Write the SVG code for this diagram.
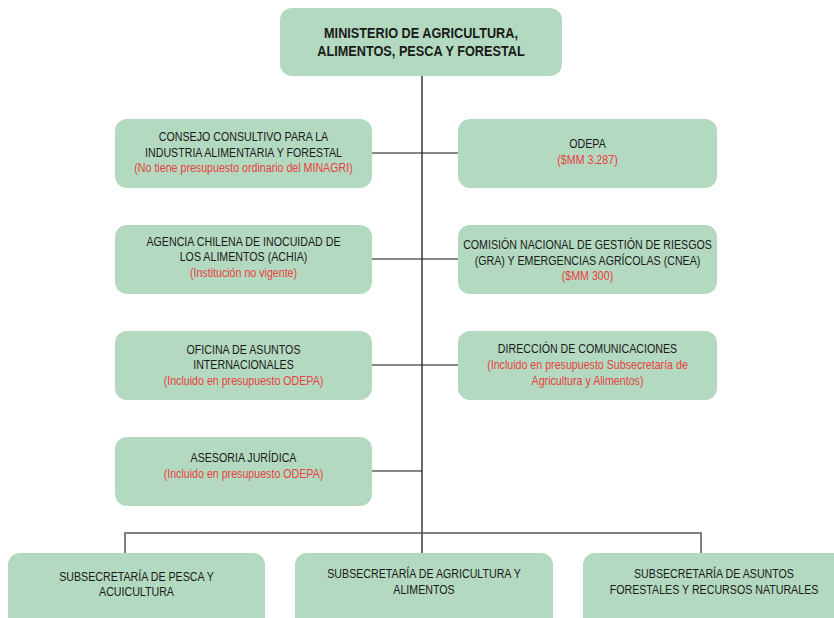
<svg xmlns="http://www.w3.org/2000/svg" width="834" height="618" viewBox="0 0 834 618">
<style>
.box{fill:#b3d9c0;}
.t{font-family:"Liberation Sans",Arial,sans-serif;font-size:13px;fill:#1a1a1a;text-anchor:middle;}
.r{fill:#e8403f;}
.title{font-size:15.5px;font-weight:bold;}
.main{stroke:#6b6b6b;stroke-width:2;fill:none;}
.br{stroke:#111;stroke-width:1.2;fill:none;}
.bus{stroke:#555;stroke-width:1.5;fill:none;}
</style>
<rect width="834" height="618" fill="#fff"/>
<g id="connectors">
<line class="main" x1="422" y1="76" x2="422" y2="553"/>
<line class="br" x1="372" y1="153" x2="422" y2="153"/>
<line class="br" x1="372" y1="259" x2="422" y2="259"/>
<line class="br" x1="372" y1="365" x2="422" y2="365"/>
<line class="br" x1="372" y1="471" x2="422" y2="471"/>
<line class="br" x1="422" y1="153" x2="458" y2="153"/>
<line class="br" x1="422" y1="259" x2="458" y2="259"/>
<line class="br" x1="422" y1="365" x2="458" y2="365"/>
<polyline class="bus" points="125,553 125,533 701,533 701,553"/>
</g>
<g id="ministerio">
<rect class="box" x="280" y="8" width="282" height="68" rx="12"/>
<g transform="translate(421,0) scale(0.82,1)">
<text class="t title" x="0" y="38">MINISTERIO DE AGRICULTURA,</text>
<text class="t title" x="0" y="56">ALIMENTOS, PESCA Y FORESTAL</text>
</g>
</g>
<g id="consejo">
<rect class="box" x="115" y="119" width="257" height="69" rx="12"/>
<g transform="translate(243.5,0) scale(0.82,1)">
<text class="t" x="0" y="141">CONSEJO CONSULTIVO PARA LA</text>
<text class="t" x="0" y="157">INDUSTRIA ALIMENTARIA Y FORESTAL</text>
<text class="t r" x="0" y="172.5">(No tiene presupuesto ordinario del MINAGRI)</text>
</g>
</g>
<g id="odepa">
<rect class="box" x="458" y="119" width="259" height="69" rx="12"/>
<g transform="translate(587.5,0) scale(0.82,1)">
<text class="t" x="0" y="148">ODEPA</text>
<text class="t r" x="0" y="164">($MM 3.287)</text>
</g>
</g>
<g id="achia">
<rect class="box" x="115" y="225" width="257" height="69" rx="12"/>
<g transform="translate(243.5,0) scale(0.82,1)">
<text class="t" x="0" y="246">AGENCIA CHILENA DE INOCUIDAD DE</text>
<text class="t" x="0" y="261.5">LOS ALIMENTOS (ACHIA)</text>
<text class="t r" x="0" y="277">(Institución no vigente)</text>
</g>
</g>
<g id="cnea">
<rect class="box" x="458" y="225" width="259" height="69" rx="12"/>
<g transform="translate(587.5,0) scale(0.82,1)">
<text class="t" x="0" y="249.5">COMISIÓN NACIONAL DE GESTIÓN DE RIESGOS</text>
<text class="t" x="0" y="265">(GRA) Y EMERGENCIAS AGRÍCOLAS (CNEA)</text>
<text class="t r" x="0" y="280">($MM 300)</text>
</g>
</g>
<g id="oficina">
<rect class="box" x="115" y="331" width="257" height="69" rx="12"/>
<g transform="translate(243.5,0) scale(0.82,1)">
<text class="t" x="0" y="354.5">OFICINA DE ASUNTOS</text>
<text class="t" x="0" y="369">INTERNACIONALES</text>
<text class="t r" x="0" y="385">(Incluido en presupuesto ODEPA)</text>
</g>
</g>
<g id="direccion">
<rect class="box" x="458" y="331" width="259" height="69" rx="12"/>
<g transform="translate(587.5,0) scale(0.82,1)">
<text class="t" x="0" y="353.5">DIRECCIÓN DE COMUNICACIONES</text>
<text class="t r" x="0" y="369.5">(Incluido en presupuesto Subsecretaría de</text>
<text class="t r" x="0" y="385">Agricultura y Alimentos)</text>
</g>
</g>
<g id="asesoria">
<rect class="box" x="115" y="437" width="257" height="69" rx="12"/>
<g transform="translate(243.5,0) scale(0.82,1)">
<text class="t" x="0" y="462">ASESORIA JURÍDICA</text>
<text class="t r" x="0" y="478.5">(Incluido en presupuesto ODEPA)</text>
</g>
</g>
<g id="pesca">
<rect class="box" x="8" y="553" width="257" height="80" rx="12"/>
<g transform="translate(136.5,0) scale(0.82,1)">
<text class="t" x="0" y="581">SUBSECRETARÍA DE PESCA Y</text>
<text class="t" x="0" y="596.5">ACUICULTURA</text>
</g>
</g>
<g id="agricultura">
<rect class="box" x="295" y="553" width="258" height="80" rx="12"/>
<g transform="translate(424,0) scale(0.82,1)">
<text class="t" x="0" y="578.5">SUBSECRETARÍA DE AGRICULTURA Y</text>
<text class="t" x="0" y="594.5">ALIMENTOS</text>
</g>
</g>
<g id="forestales">
<rect class="box" x="583" y="553" width="262" height="80" rx="12"/>
<g transform="translate(714,0) scale(0.82,1)">
<text class="t" x="0" y="578.5">SUBSECRETARÍA DE ASUNTOS</text>
<text class="t" x="0" y="594.5">FORESTALES Y RECURSOS NATURALES</text>
</g>
</g>
</svg>
